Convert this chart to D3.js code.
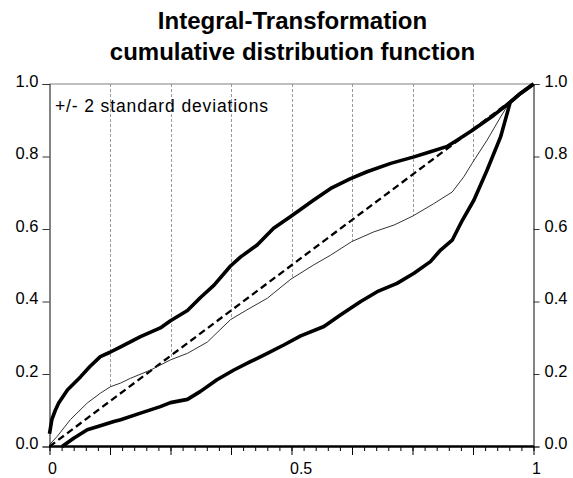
<!DOCTYPE html>
<html>
<head>
<meta charset="utf-8">
<script src="https://cdn.jsdelivr.net/npm/d3@7"></script>
<style>
  html, body { margin: 0; padding: 0; background: #fff; }
  svg { display: block; font-family: "Liberation Sans", Arial, sans-serif; }
</style>
</head>
<body>
<svg id="chart" width="573" height="478"></svg>
<script>
// ---- data ----
const titleLines = ["Integral-Transformation", "cumulative distribution function"];
const legendText = "+/- 2 standard deviations";

const upperX = [0, 0.005, 0.012, 0.019, 0.037, 0.064, 0.083, 0.105, 0.125, 0.147, 0.188, 0.229, 0.25, 0.285, 0.312, 0.34, 0.374, 0.395, 0.429, 0.463, 0.499, 0.546, 0.581, 0.622, 0.656, 0.705, 0.753, 0.787, 0.822, 0.842, 0.873, 0.918, 0.952, 0.973, 1.0];
const upperY = [0.035, 0.075, 0.10, 0.12, 0.156, 0.192, 0.22, 0.248, 0.26, 0.275, 0.303, 0.327, 0.347, 0.375, 0.411, 0.445, 0.498, 0.523, 0.556, 0.602, 0.635, 0.68, 0.712, 0.739, 0.758, 0.781, 0.799, 0.813, 0.828, 0.845, 0.872, 0.914, 0.95, 0.974, 1.0];

const middleX = [0, 0.016, 0.043, 0.078, 0.105, 0.126, 0.147, 0.167, 0.209, 0.25, 0.285, 0.326, 0.374, 0.408, 0.45, 0.499, 0.546, 0.581, 0.624, 0.67, 0.712, 0.751, 0.794, 0.832, 0.856, 0.873, 0.904, 0.932, 0.949, 1.0];
const middleY = [0.005, 0.028, 0.074, 0.12, 0.147, 0.165, 0.175, 0.188, 0.211, 0.239, 0.257, 0.288, 0.35, 0.377, 0.409, 0.462, 0.501, 0.528, 0.565, 0.592, 0.611, 0.636, 0.67, 0.702, 0.744, 0.781, 0.845, 0.909, 0.946, 1.0];

const lowerX = [0.026, 0.05, 0.078, 0.105, 0.133, 0.147, 0.188, 0.229, 0.25, 0.285, 0.312, 0.346, 0.381, 0.415, 0.45, 0.484, 0.519, 0.567, 0.601, 0.643, 0.677, 0.718, 0.753, 0.787, 0.808, 0.832, 0.853, 0.877, 0.904, 0.932, 0.952, 0.973, 1.0];
const lowerY = [0, 0.023, 0.046, 0.057, 0.069, 0.074, 0.092, 0.11, 0.121, 0.13, 0.152, 0.184, 0.211, 0.234, 0.257, 0.28, 0.305, 0.331, 0.363, 0.40, 0.427, 0.45, 0.478, 0.51, 0.542, 0.569, 0.624, 0.68, 0.762, 0.854, 0.95, 0.974, 1.0];

const uniformX = [0, 1];
const uniformY = [0, 1];

const yTicks = [0, 0.2, 0.4, 0.6, 0.8, 1.0];
const xLabelTicks = [0, 0.5, 1];
const xMajorTicks = [0, 0.125, 0.25, 0.375, 0.5, 0.625, 0.75, 0.875, 1];
const xMinorTicks = d3.range(0, 41).map(i => i / 40);
const gridTicks = [0.125, 0.25, 0.375, 0.5, 0.625, 0.75, 0.875];

// ---- layout ----
const svg = d3.select("#chart");
const W = 573, H = 478;
const mLeft = 49.5, mRight = 533.5, mTop = 84, mBottom = 446.5;
const FONT = "Liberation Sans, Arial, sans-serif";

const x = d3.scaleLinear().domain([0, 1]).range([mLeft, mRight]);
const y = d3.scaleLinear().domain([0, 1]).range([mBottom, mTop]);

svg.append("rect").attr("width", W).attr("height", H).attr("fill", "#fff");

// title
svg.append("g").selectAll("text").data(titleLines).join("text")
  .attr("x", (mLeft + mRight) / 2 + 1)
  .attr("y", (d, i) => 28.5 + i * 31.5)
  .attr("text-anchor", "middle")
  .attr("font-size", 24)
  .attr("font-weight", "bold")
  .attr("fill", "#000")
  .text(d => d);

// grid: dashed drop lines from the top down to the empirical CDF
function interp(xs, ys, v) {
  const i = d3.bisectRight(xs, v);
  if (i <= 0) return ys[0];
  if (i >= xs.length) return ys[ys.length - 1];
  const t = (v - xs[i - 1]) / (xs[i] - xs[i - 1]);
  return ys[i - 1] + t * (ys[i] - ys[i - 1]);
}
svg.append("g").selectAll("line").data(gridTicks).join("line")
  .attr("x1", d => Math.round(x(d)) + 0.5).attr("x2", d => Math.round(x(d)) + 0.5)
  .attr("y1", y(1)).attr("y2", d => y(interp(middleX, middleY, d)))
  .attr("stroke", "#9a9a9a").attr("stroke-width", 1)
  .attr("stroke-dasharray", "3,2");

// frame
svg.append("line").attr("x1", mLeft).attr("x2", mRight).attr("y1", mTop).attr("y2", mTop)
  .attr("stroke", "#808080").attr("stroke-width", 1.2);

// left axis
const gL = svg.append("g").attr("transform", `translate(${mLeft},0)`)
  .call(d3.axisLeft(y).tickValues(yTicks).tickSize(7).tickPadding(4).tickFormat(d3.format(".1f")));
// right axis
const gR = svg.append("g").attr("transform", `translate(${mRight},0)`)
  .call(d3.axisRight(y).tickValues(yTicks).tickSize(6).tickPadding(5).tickFormat(d3.format(".1f")));
[gL, gR].forEach(g => {
  g.select(".domain").attr("stroke", "#333").attr("stroke-width", 1.2);
  g.selectAll(".tick line").attr("stroke", "#333");
  g.selectAll(".tick text").attr("font-size", 16.5).attr("font-family", FONT)
    .attr("fill", "#000").attr("dy", "0.15em");
});

// bottom axis: minor ticks, major ticks, labels
const gB = svg.append("g").attr("transform", `translate(0,${mBottom})`);
gB.append("g").call(d3.axisBottom(x).tickValues(xMinorTicks).tickSize(4.5).tickFormat(""))
  .call(g => g.select(".domain").remove())
  .selectAll(".tick line").attr("stroke", "#000").attr("stroke-width", 1);
gB.append("g").call(d3.axisBottom(x).tickValues(xMajorTicks).tickSize(8.5).tickFormat(""))
  .call(g => g.select(".domain").remove())
  .selectAll(".tick line").attr("stroke", "#000").attr("stroke-width", 1);
gB.append("g").call(d3.axisBottom(x).tickValues(xLabelTicks).tickSize(0).tickPadding(16).tickFormat(d3.format("")))
  .call(g => g.select(".domain").remove())
  .selectAll(".tick text").attr("text-anchor", "start").attr("dx", -2)
  .attr("font-size", 16).attr("font-family", FONT).attr("fill", "#000");

// series
const line = d3.line().x(d => x(d[0])).y(d => y(d[1]));
const zip = (a, b) => a.map((v, i) => [v, b[i]]);

svg.append("path").datum(zip(uniformX, uniformY)).attr("d", line)
  .attr("fill", "none").attr("stroke", "#000").attr("stroke-width", 2.3)
  .attr("stroke-dasharray", "7,4");
svg.append("path").datum(zip(middleX, middleY)).attr("d", line)
  .attr("fill", "none").attr("stroke", "#333").attr("stroke-width", 1);
svg.append("path").datum(zip(upperX, upperY)).attr("d", line)
  .attr("fill", "none").attr("stroke", "#000").attr("stroke-width", 3.6).attr("stroke-linejoin", "round");
svg.append("path").datum(zip(lowerX, lowerY)).attr("d", line)
  .attr("fill", "none").attr("stroke", "#000").attr("stroke-width", 3.6).attr("stroke-linejoin", "round");

// bottom axis line (thick)
svg.append("line").attr("x1", mLeft - 0.5).attr("x2", mRight + 0.5).attr("y1", mBottom).attr("y2", mBottom)
  .attr("stroke", "#000").attr("stroke-width", 2.5);

// legend text
svg.append("text").attr("x", 55).attr("y", 112)
  .attr("font-size", 17.5).attr("fill", "#000")
  .attr("textLength", 213).attr("lengthAdjust", "spacing")
  .text(legendText);
</script>
</body>
</html>
